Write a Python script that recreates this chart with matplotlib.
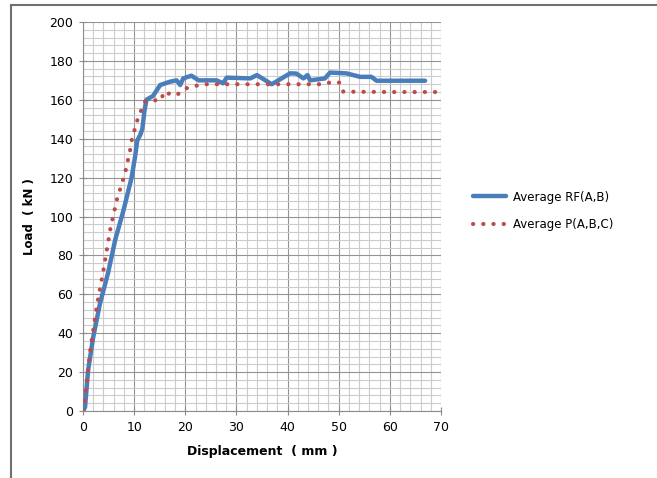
import matplotlib
matplotlib.use("Agg")
import matplotlib.pyplot as plt
from matplotlib.lines import Line2D
from matplotlib.ticker import MultipleLocator

# Average RF(A,B)
rf_x = [0, 0.4, 1.0, 2.0, 3.3, 4.9, 6.3, 7.9, 9.5, 10.2, 10.6, 11.2, 11.6, 12.0, 12.4, 13.7,
        15.1, 17.0, 18.3, 19.0, 19.6, 21.2, 22.6, 26.1, 27.4, 28.1, 32.7, 34.0, 36.9,
        40.5, 41.7, 43.1, 43.9, 44.4, 47.3, 48.3, 51.5, 54.2, 56.4, 57.4, 66.9]
rf_y = [0, 2, 21, 38, 55, 71, 88, 103, 120, 131, 139, 142, 145, 154, 160, 162,
        167.6, 169.3, 170, 167.6, 171, 172.4, 170, 170, 168.5, 171.4, 171, 172.7, 168,
        173.6, 173.5, 171, 172.7, 170, 171, 174, 173.6, 171.8, 171.8, 169.8, 169.8]

# Average P(A,B,C)
p_x = [0, 0.4, 1.4, 2.7, 4.0, 5.3, 6.6, 8.2, 9.2, 9.5, 9.8, 10.8, 12.1, 13.4, 15.4,
       15.7, 16.6, 17.6, 18.6, 20.3, 21.6, 23.2, 30.0, 40.0, 47.0, 48.9, 50.2, 50.9,
       60.0, 69.5]
p_y = [0, 7, 31, 54, 72.5, 93, 108.5, 122, 134, 139, 142, 151, 159, 159.6, 160,
       164, 163, 164, 163, 166, 166.8, 168, 168, 168, 168, 169.3, 168.8, 164.2,
       164, 164]

fig = plt.figure(figsize=(6.57, 4.78), dpi=100)
ax = fig.add_axes([83 / 657, 1 - 411 / 478, (441 - 83) / 657, (411 - 22) / 478])

ax.plot(rf_x, rf_y, color="#4A7EBB", lw=3.2, solid_capstyle="round",
        solid_joinstyle="round", label="Average RF(A,B)", zorder=3)
ax.plot(p_x, p_y, color="#BE4B48", lw=3.0, linestyle=(0, (0.05, 2.4)),
        dash_capstyle="round", label="Average P(A,B,C)", zorder=4)

ax.set_xlim(0, 70)
ax.set_ylim(0, 200)
ax.xaxis.set_major_locator(MultipleLocator(10))
ax.xaxis.set_minor_locator(MultipleLocator(2))
ax.yaxis.set_major_locator(MultipleLocator(20))
ax.yaxis.set_minor_locator(MultipleLocator(4))
ax.grid(which="major", color="#939393", lw=0.8)
ax.grid(which="minor", color="#cccccc", lw=0.8)
ax.set_axisbelow(True)

for s in ["top", "right"]:
    ax.spines[s].set_visible(False)
for s in ["left", "bottom"]:
    ax.spines[s].set_color("#8c8c8c")
ax.tick_params(which="major", direction="inout", length=6, color="#8c8c8c",
               labelsize=9, pad=4)
ax.tick_params(which="minor", length=0)

ax.set_xlabel("Displacement  ( mm )", fontsize=9, fontweight="bold", labelpad=8)
ax.set_ylabel("Load  ( kN )", fontsize=8.5, fontweight="bold", labelpad=10)

ax.legend(loc="center left", bbox_to_anchor=(1.06, 0.515), frameon=False,
          fontsize=8.5, handlelength=2.8, labelspacing=1.2, handletextpad=0.6)

# outer frame of the chart area
fig.add_artist(Line2D([11 / 657, 656 / 657], [1 - 5 / 478, 1 - 5 / 478],
                      color="#707070", lw=1.5, transform=fig.transFigure))
fig.add_artist(Line2D([11 / 657, 11 / 657], [0, 1 - 5 / 478],
                      color="#707070", lw=1.5, transform=fig.transFigure))

fig.savefig("out.png", dpi=100)
